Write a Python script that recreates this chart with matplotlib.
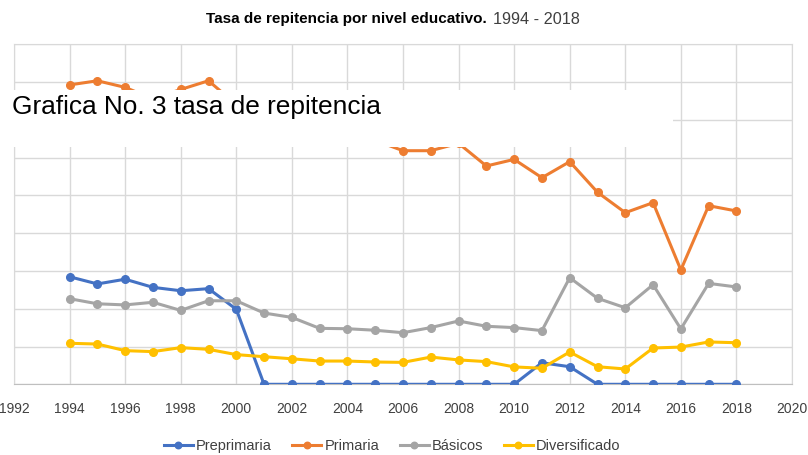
import matplotlib.pyplot as plt
from matplotlib.patches import Rectangle

years = list(range(1994, 2019))

preprimaria = [5.69, 5.31, 5.56, 5.13, 4.95, 5.06, 3.97, 0, 0, 0, 0, 0, 0, 0, 0, 0, 0,
               1.14, 0.93, 0, 0, 0, 0, 0, 0]
primaria = [15.84, 16.06, 15.71, 15.1, 15.6, 16.06, 14.8, 14.3, 13.9, 13.6, 13.3, 12.9, 12.36,
            12.36, 12.75, 11.55, 11.9, 10.93, 11.78, 10.16, 9.08, 9.61, 6.05, 9.45, 9.17]
basicos = [4.53, 4.26, 4.20, 4.34, 3.91, 4.42, 4.42, 3.77, 3.54, 2.96, 2.94, 2.86, 2.73,
           3.00, 3.35, 3.07, 3.00, 2.84, 5.64, 4.55, 4.05, 5.27, 2.93, 5.34, 5.15]
diversificado = [2.17, 2.13, 1.78, 1.73, 1.94, 1.85, 1.57, 1.46, 1.35, 1.23, 1.23, 1.18, 1.16,
                 1.44, 1.29, 1.20, 0.92, 0.85, 1.71, 0.93, 0.81, 1.92, 1.97, 2.24, 2.20]

series_names = ["Preprimaria", "Primaria", "Básicos", "Diversificado"]
colors = ["#4472C4", "#ED7D31", "#A5A5A5", "#FFC000"]

x_ticks = list(range(1992, 2021, 2))
y_ticks = list(range(0, 19, 2))

plt.rcParams["font.family"] = ["Liberation Sans", "DejaVu Sans"]

fig = plt.figure(figsize=(8.08, 4.55), dpi=100)
ax = fig.add_axes([14 / 808, 1 - 384.3 / 455, 778 / 808, 340.2 / 455])

for name, vals, c in zip(series_names, [preprimaria, primaria, basicos, diversificado], colors):
    ax.plot(years, vals, color=c, lw=2.2, marker="o", markersize=5.5, label=name, zorder=3)

ax.set_xlim(1992, 2020)
ax.set_ylim(0, 18)
ax.set_xticks(x_ticks)
ax.set_xticklabels([str(t) for t in x_ticks], fontsize=10, color="#404040")
ax.set_yticks(y_ticks)
ax.set_yticklabels([])
ax.tick_params(length=0, pad=13)
ax.grid(color="#D9D9D9", lw=1)
ax.set_axisbelow(True)
for side in ["top", "right", "left"]:
    ax.spines[side].set_color("#D9D9D9")
ax.spines["bottom"].set_color("#BFBFBF")


def fit_width(txt, target_px):
    # shrink/grow a text so it spans target_px
    fig.canvas.draw()
    w = txt.get_window_extent().width
    txt.set_fontsize(txt.get_fontsize() * target_px / w)


t1 = fig.text(487 / 808, 1 - 19 / 455, "Tasa de repitencia por nivel educativo.", ha="right", va="center",
              fontsize=11, fontweight="bold", color="#000000")
t2 = fig.text(493 / 808, 1 - 19 / 455, "1994 - 2018", ha="left", va="center",
              fontsize=11, color="#404040")
fit_width(t1, 281)
fit_width(t2, 87)

fig.legend(loc="center", bbox_to_anchor=(392 / 808, 1 - 446 / 455), ncol=4, frameon=False,
           fontsize=10.5, handlelength=2.0, columnspacing=1.4, markerscale=0.85,
           handletextpad=0.2, labelcolor="#404040")

# white box pasted over the chart with its caption
fig.patches.append(Rectangle((0, 1 - 147 / 455), 673 / 808, 57 / 455, transform=fig.transFigure,
                             facecolor="white", edgecolor="none", zorder=5))
cap = fig.text(12 / 808, 1 - 107 / 455, "Grafica No. 3 tasa de repitencia", ha="left", va="center",
               fontsize=18, color="#000000", zorder=6)
fit_width(cap, 369)

fig.savefig("out.png", dpi=100)
